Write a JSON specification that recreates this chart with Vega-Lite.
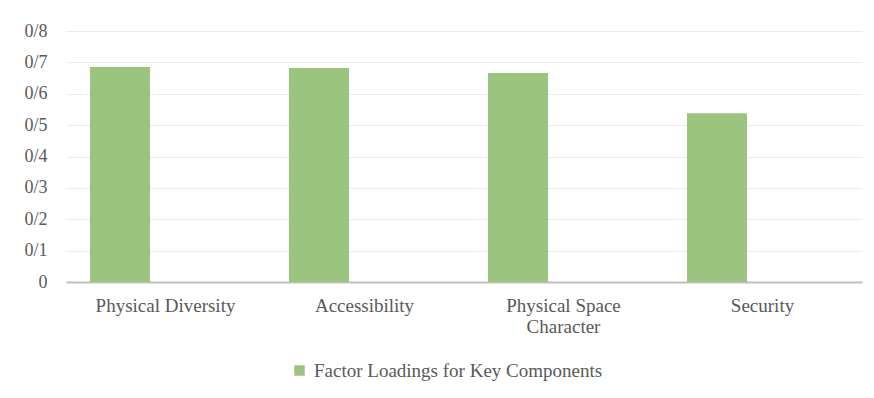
{
  "$schema": "https://vega.github.io/schema/vega-lite/v6.json",
  "autosize": "none",
  "width": 796,
  "height": 251,
  "padding": {"left": 66, "top": 31, "right": 12, "bottom": 116},
  "background": "white",
  "data": {
    "values": [
      {"component": "Physical Diversity", "loading": 0.685, "series": "Factor Loadings for Key Components"},
      {"component": "Accessibility", "loading": 0.682, "series": "Factor Loadings for Key Components"},
      {"component": "Physical Space Character", "loading": 0.666, "series": "Factor Loadings for Key Components"},
      {"component": "Security", "loading": 0.538, "series": "Factor Loadings for Key Components"}
    ]
  },
  "mark": {"type": "bar", "width": 60, "xOffset": -45.5, "opacity": 1},
  "encoding": {
    "x": {
      "field": "component",
      "type": "nominal",
      "sort": null,
      "scale": {"paddingInner": 0, "paddingOuter": 0},
      "axis": {
        "title": null,
        "labelAngle": 0,
        "labelFontSize": 19,
        "labelColor": "#595959",
        "labelPadding": 14,
        "labelLineHeight": 21,
        "labelExpr": "datum.value == 'Physical Space Character' ? ['Physical Space', 'Character'] : datum.value",
        "ticks": false,
        "domainColor": "#bfbfbf",
        "domainWidth": 2,
        "grid": false
      }
    },
    "y": {
      "field": "loading",
      "type": "quantitative",
      "scale": {"domain": [0, 0.8], "nice": false},
      "axis": {
        "title": null,
        "values": [0, 0.1, 0.2, 0.3, 0.4, 0.5, 0.6, 0.7, 0.8],
        "labelExpr": "datum.value == 0 ? '0' : replace(format(datum.value, '.1f'), '.', '/')",
        "labelFontSize": 18,
        "labelColor": "#595959",
        "labelPadding": 19,
        "ticks": false,
        "domain": false,
        "gridColor": "#ebebeb",
        "gridWidth": 1.2
      }
    },
    "color": {
      "field": "series",
      "type": "nominal",
      "scale": {"range": ["#9bc47e"]},
      "legend": {
        "title": null,
        "orient": "none",
        "legendX": 224,
        "legendY": 330,
        "direction": "horizontal",
        "padding": 0,
        "symbolType": "square",
        "symbolSize": 110,
        "symbolStrokeWidth": 0,
        "labelFontSize": 19,
        "labelLimit": 0,
        "labelColor": "#595959",
        "labelOffset": 5
      }
    }
  },
  "config": {
    "axis": {"labelFont": "Times New Roman, Liberation Serif, serif"},
    "legend": {"labelFont": "Times New Roman, Liberation Serif, serif"},
    "view": {"stroke": null}
  }
}
